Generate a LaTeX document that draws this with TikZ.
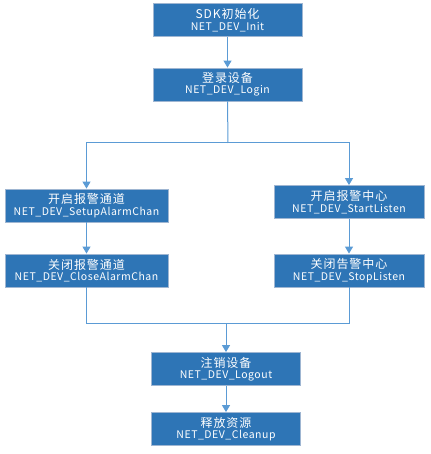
\documentclass[tikz,border=0pt]{standalone}
\usepackage{fontspec}
\setmainfont{Noto Sans CJK SC}
\newfontfamily\titlefont[LetterSpace=8]{Noto Sans CJK SC}
\newfontfamily\apifont[LetterSpace=5]{Noto Sans CJK SC}
\usetikzlibrary{arrows.meta}
\definecolor{boxfill}{HTML}{2E75B6}
\definecolor{boxedge}{HTML}{9FB6D2}
\definecolor{flow}{HTML}{5B9BD5}
\tikzset{
  stepbox/.style={draw=boxedge, line width=0.8pt, fill=boxfill, text=white,
    minimum height=33pt, inner sep=0pt, align=center},
  flowline/.style={draw=flow, line width=1pt},
  flowarrow/.style={flowline, -{Triangle[width=8pt,length=7pt]}},
}
\newcommand{\boxtext}[2]{{\titlefont\fontsize{12pt}{15pt}\selectfont #1}\\[-0.5pt]{\apifont\fontsize{10.5pt}{15pt}\selectfont #2}}
\begin{document}
\begin{tikzpicture}[x=1pt,y=-1pt]
\useasboundingbox (0,0) rectangle (430,454);
% main column
\node[stepbox, minimum width=149pt] (init)   at (227.5,20)  {\boxtext{SDK初始化}{NET\_DEV\_Init}};
\node[stepbox, minimum width=149pt] (login)  at (227.5,84.5) {\boxtext{登录设备}{NET\_DEV\_Login}};
% alarm channel branch
\node[stepbox, minimum width=163pt] (setup)  at (86.5,205.5) {\boxtext{开启报警通道}{NET\_DEV\_SetupAlarmChan}};
\node[stepbox, minimum width=163pt] (close)  at (86.5,270.5) {\boxtext{关闭报警通道}{NET\_DEV\_CloseAlarmChan}};
% alarm listen branch
\node[stepbox, minimum width=150pt] (start)  at (349,202)   {\boxtext{开启报警中心}{NET\_DEV\_StartListen}};
\node[stepbox, minimum width=150pt] (stop)   at (349,270.5) {\boxtext{关闭告警中心}{NET\_DEV\_StopListen}};
% shutdown
\node[stepbox, minimum width=149pt] (logout) at (226,369)   {\boxtext{注销设备}{NET\_DEV\_Logout}};
\node[stepbox, minimum width=149pt] (clean)  at (226,429)   {\boxtext{释放资源}{NET\_DEV\_Cleanup}};
% junction points
\coordinate (split) at (228,143);
\coordinate (merge) at (226,323);
% connectors
\draw[flowarrow] (init) -- (login);
\draw[flowline] (login.south) -- (split);
\draw[flowarrow] (split) -| (setup.north);
\draw[flowarrow] (split) -| (start.north);
\draw[flowarrow] (setup) -- (close);
\draw[flowarrow] (start) -- (stop);
\draw[flowline] (close.south) |- (merge);
\draw[flowline] (stop.south) |- (merge);
\draw[flowarrow] (merge) -- (logout.north);
\draw[flowarrow] (logout) -- (clean);
\end{tikzpicture}
\end{document}
